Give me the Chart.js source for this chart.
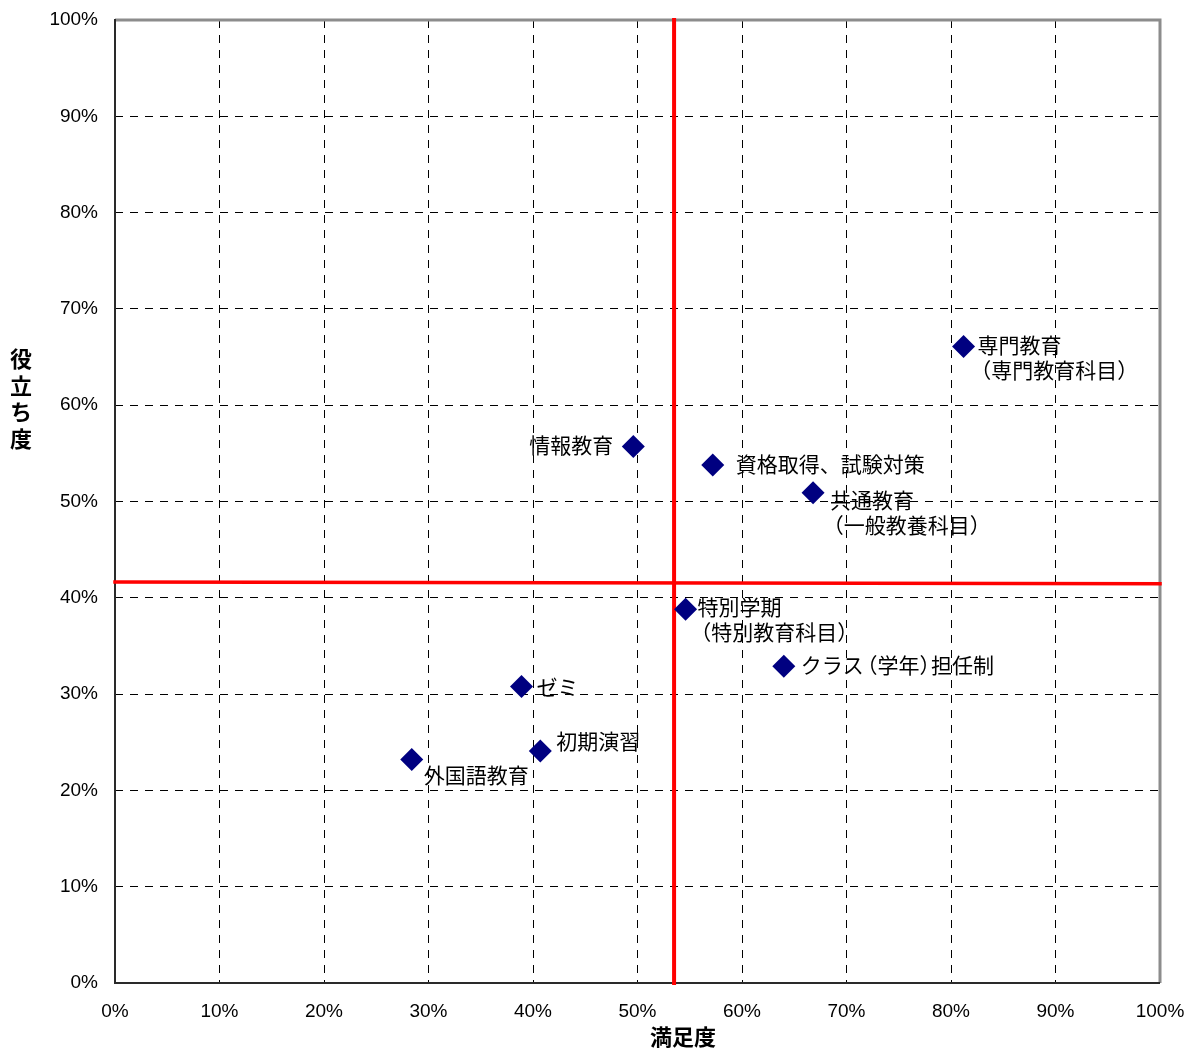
<!DOCTYPE html>
<html>
<head>
<meta charset="utf-8">
<script src="https://cdn.jsdelivr.net/npm/chart.js@4.4.1/dist/chart.umd.min.js"></script>
<style>
  html, body { margin: 0; padding: 0; background: #ffffff; }
  #wrap { width: 1194px; height: 1048px; position: relative; }
</style>
</head>
<body>
<div id="wrap"><canvas id="c"></canvas></div>
<script>
// 項目名（改行は配列で表す）
const itemNames = [
  ['専門教育', '（専門教育科目）'],
  ['情報教育'],
  ['資格取得、試験対策'],
  ['共通教育', '（一般教養科目）'],
  ['特別学期', '（特別教育科目）'],
  ['クラス（学年）担任制'],
  ['ゼミ'],
  ['初期演習'],
  ['外国語教育']
];
// 満足度（%）
const satisfaction = [81.2, 49.6, 57.2, 66.8, 54.6, 64.0, 38.9, 40.7, 28.4];
// 役立ち度（%）
const usefulness = [66.1, 55.7, 53.8, 50.9, 38.8, 32.9, 30.8, 24.1, 23.2];
// 平均値の基準線
const satisfactionAverage = 53.5;
const usefulnessAverageEnds = [41.65, 41.45];
// 目盛り
const tickValues = [0, 10, 20, 30, 40, 50, 60, 70, 80, 90, 100];
const tickLabels = tickValues.map(v => v + '%');
const axisTitleX = '満足度';
const axisTitleY = ['役', '立', 'ち', '度'];

// ラベルの置き方（点からのずれ）
const labelPlacement = [
  { dx: 14, dy: -1, align: 'left' },
  { dx: -20, dy: -2, align: 'right' },
  { dx: 23, dy: -1, align: 'left' },
  { dx: 17, dy: 7, align: 'left' },
  { dx: 12, dy: -2, align: 'left' },
  { dx: 17, dy: -1, align: 'left' },
  { dx: 15, dy: 1, align: 'left' },
  { dx: 16, dy: -10, align: 'left' },
  { dx: 12, dy: 15, align: 'left' }
];

const JP_FONT = '"Noto Sans CJK JP", "Noto Sans", sans-serif';
const NUM_FONT = '"Liberation Sans", Arial, sans-serif';
const LABEL_SIZE = 21;

const points = satisfaction.map((x, i) => ({ x: x, y: usefulness[i] }));

// 全角括弧を詰めて一文字ずつ描く
function charAdvance(ch, size) {
  if (ch === '（') return size * 0.65;
  if (ch === '）') return size * 0.55;
  return size;
}
function textWidth(text, size) {
  let w = 0;
  for (const ch of text) w += charAdvance(ch, size);
  return w;
}
function drawCompact(ctx, text, x, y, align, size) {
  let cx = align === 'right' ? x - textWidth(text, size) : x;
  ctx.textAlign = 'left';
  for (const ch of text) {
    const shift = ch === '（' ? -size * 0.35 : 0;
    ctx.fillText(ch, cx + shift, y);
    cx += charAdvance(ch, size);
  }
}

const framePlugin = {
  id: 'frame',
  beforeDatasetsDraw(chart) {
    const { ctx, chartArea: a } = chart;
    ctx.save();
    ctx.lineCap = 'butt';
    // 上・右の枠
    ctx.strokeStyle = '#8c8c8c';
    ctx.lineWidth = 3;
    ctx.beginPath();
    ctx.moveTo(a.left, a.top);
    ctx.lineTo(a.right, a.top);
    ctx.lineTo(a.right, a.bottom);
    ctx.stroke();
    // 左・下の軸線
    ctx.strokeStyle = '#2a2a2a';
    ctx.lineWidth = 2;
    ctx.beginPath();
    ctx.moveTo(a.left, a.top - 1);
    ctx.lineTo(a.left, a.bottom);
    ctx.lineTo(a.right, a.bottom);
    ctx.stroke();
    ctx.restore();
  }
};

const labelPlugin = {
  id: 'pointLabels',
  afterDatasetsDraw(chart) {
    const { ctx } = chart;
    const meta = chart.getDatasetMeta(0);
    ctx.save();
    ctx.fillStyle = '#000000';
    ctx.font = LABEL_SIZE + 'px ' + JP_FONT;
    ctx.textBaseline = 'middle';
    meta.data.forEach((el, i) => {
      const p = labelPlacement[i];
      itemNames[i].forEach((line, k) => {
        drawCompact(ctx, line, el.x + p.dx, el.y + p.dy + k * 25, p.align, LABEL_SIZE);
      });
    });
    // 軸タイトル
    ctx.font = 'bold 22px ' + JP_FONT;
    ctx.textAlign = 'center';
    ctx.fillText(axisTitleX, 683, 1037);
    axisTitleY.forEach((ch, k) => {
      ctx.fillText(ch, 21, 359 + k * 26.5);
    });
    ctx.restore();
  }
};

new Chart(document.getElementById('c'), {
  type: 'scatter',
  data: {
    datasets: [
      {
        label: '項目',
        data: points,
        pointStyle: 'rectRot',
        pointRadius: 11.5,
        pointHoverRadius: 11.5,
        backgroundColor: '#000080',
        borderColor: '#000080',
        borderWidth: 0
      },
      {
        label: '満足度平均',
        type: 'line',
        data: [{ x: satisfactionAverage, y: 0 }, { x: satisfactionAverage, y: 100 }],
        borderColor: '#ff0000',
        borderWidth: 4,
        borderCapStyle: 'square',
        pointRadius: 0,
        clip: false
      },
      {
        label: '役立ち度平均',
        type: 'line',
        data: [{ x: 0, y: usefulnessAverageEnds[0] }, { x: 100, y: usefulnessAverageEnds[1] }],
        borderColor: '#ff0000',
        borderWidth: 3.5,
        borderCapStyle: 'square',
        pointRadius: 0,
        clip: false
      }
    ]
  },
  options: {
    responsive: true,
    maintainAspectRatio: false,
    animation: false,
    layout: { autoPadding: false, padding: { left: 0, top: 20, right: 34, bottom: 0 } },
    plugins: {
      legend: { display: false },
      tooltip: { enabled: false },
      title: { display: false }
    },
    scales: {
      x: {
        type: 'linear',
        min: 0,
        max: 100,
        afterFit(s) { s.height = 65; s.paddingLeft = 0; s.paddingRight = 0; },
        afterBuildTicks(s) { s.ticks = tickValues.map(v => ({ value: v })); },
        ticks: {
          padding: 17,
          color: '#000000',
          font: { family: NUM_FONT, size: 19 },
          maxRotation: 0,
          callback: (v) => tickLabels[tickValues.indexOf(v)]
        },
        grid: {
          color: '#000000',
          lineWidth: 1,
          drawTicks: false
        },
        border: { display: false, dash: [8, 7] }
      },
      y: {
        type: 'linear',
        min: 0,
        max: 100,
        afterFit(s) { s.width = 115; s.paddingTop = 0; s.paddingBottom = 0; },
        afterBuildTicks(s) { s.ticks = tickValues.map(v => ({ value: v })); },
        ticks: {
          padding: 17,
          color: '#000000',
          font: { family: NUM_FONT, size: 19 },
          callback: (v) => tickLabels[tickValues.indexOf(v)]
        },
        grid: {
          color: '#000000',
          lineWidth: 1,
          drawTicks: false
        },
        border: { display: false, dash: [8, 7] }
      }
    }
  },
  plugins: [framePlugin, labelPlugin]
});
</script>
</body>
</html>
